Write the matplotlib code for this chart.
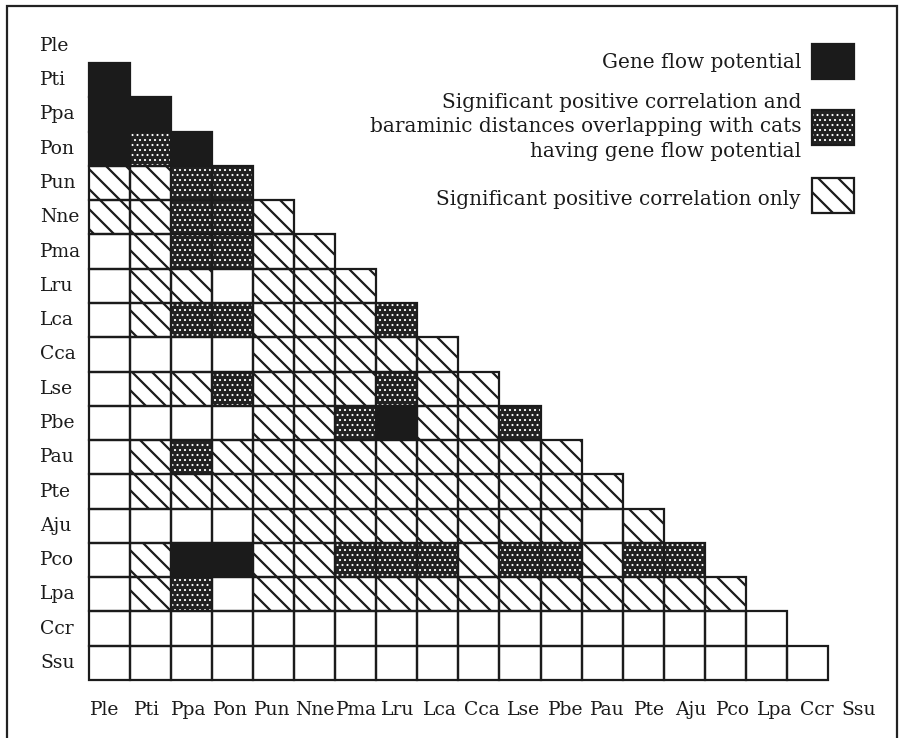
import matplotlib
matplotlib.use("Agg")
import matplotlib.pyplot as plt
from matplotlib.patches import Rectangle

# Species abbreviations (rows top-to-bottom, columns left-to-right)
species = ["Ple", "Pti", "Ppa", "Pon", "Pun", "Nne", "Pma", "Lru", "Lca",
           "Cca", "Lse", "Pbe", "Pau", "Pte", "Aju", "Pco", "Lpa", "Ccr", "Ssu"]

# Lower-triangle relationship codes, one string per row starting at "Pti".
# B = gene flow potential, D = correlation + overlapping baraminic distances,
# S = significant positive correlation only, W = none
cell_codes = [
    "B",
    "BB",
    "BDB",
    "SSDD",
    "SSDDS",
    "WSDDSS",
    "WSSWSSS",
    "WSDDSSSD",
    "WWWWSSSSS",
    "WSSDSSSDSS",
    "WWWWSSDBSSD",
    "WSDSSSSSSSSS",
    "WSSSSSSSSSSSS",
    "WWWWSSSSSSSSWS",
    "WSBBSSDDDSDDSDD",
    "WSDWSSSSSSSSSSSS",
    "WWWWWWWWWWWWWWWWW",
    "WWWWWWWWWWWWWWWWWW",
]

legend_labels = [
    "Gene flow potential",
    "Significant positive correlation and\n"
    "baraminic distances overlapping with cats\n"
    "having gene flow potential",
    "Significant positive correlation only",
]
legend_codes = ["B", "D", "S"]

W, H = 902, 738
DPI = 120                 # hatch tile = 1 inch, so this sets the stripe pitch
PT = 100.0 / DPI          # keeps sizes as they would look at 100 dpi
INK = "#1b1b1b"
FONT = "DejaVu Serif"

fig = plt.figure(figsize=(W / DPI, H / DPI), dpi=DPI)
fig.patch.set_facecolor("white")
ax = fig.add_axes([0, 0, 1, 1])
ax.set_axis_off()

# cell size in pixels and grid origin
cw, ch = 41.05, 34.28
x0_px, y0_px = 89.0, 63.0 - ch
ax.set_xlim(-x0_px / cw, (W - x0_px) / cw)
ax.set_ylim((H - y0_px) / ch, -y0_px / ch)


def fill_style(code):
    if code == "B":
        return dict(facecolor=INK, edgecolor=INK, hatch=None, hlw=1.0)
    if code == "D":
        return dict(facecolor="#222222", edgecolor="white", hatch="....", hlw=0.8)
    if code == "S":
        return dict(facecolor="white", edgecolor=INK, hatch="\\\\", hlw=1.6)
    return dict(facecolor="white", edgecolor=INK, hatch=None, hlw=1.0)


def add_cell(code, xy, w, h, transform):
    st = fill_style(code)
    on_fig = transform is fig.transFigure
    with plt.rc_context({"hatch.linewidth": st["hlw"] * PT}):
        p = Rectangle(xy, w, h, facecolor=st["facecolor"],
                      edgecolor=st["edgecolor"], hatch=st["hatch"],
                      linewidth=0, transform=transform, zorder=1)
        if hasattr(p, "set_hatch_linewidth"):
            p.set_hatch_linewidth(st["hlw"] * PT)
        fig.add_artist(p) if on_fig else ax.add_patch(p)
    b = Rectangle(xy, w, h, facecolor="none", edgecolor=INK, linewidth=1.6 * PT,
                  transform=transform, zorder=2)
    fig.add_artist(b) if on_fig else ax.add_patch(b)


for r, row in enumerate(cell_codes, start=1):
    for c, code in enumerate(row):
        add_cell(code, (c, r), 1, 1, ax.transData)

# row labels
for r, name in enumerate(species):
    ax.text(-49 / cw, r + 0.5, name, ha="left", va="center",
            fontsize=13.5 * PT, family=FONT, color=INK)
# column labels
for c, name in enumerate(species):
    ax.text(0.39 + 1.02 * c, 19.87, name, ha="center", va="center",
            fontsize=13.5 * PT, family=FONT, color=INK)


# legend (figure pixel coordinates converted to fractions)
def fx(px):
    return px / W


def fy(py):
    return 1 - py / H


text_y = [62, 127, 200]
swatch_y = [44, 110, 178]
for lab, code, ty, sy in zip(legend_labels, legend_codes, text_y, swatch_y):
    fig.text(fx(801), fy(ty), lab, ha="right", va="center", multialignment="right",
             fontsize=14.4 * PT, family=FONT, color=INK, linespacing=1.36)
    add_cell(code, (fx(812), fy(sy + 35)), 42 / W, 35 / H, fig.transFigure)

# outer frame (bottom edge falls outside the image)
fig.add_artist(Rectangle((fx(7), -0.05), fx(897) - fx(7), fy(6) + 0.05,
                         transform=fig.transFigure, fill=False,
                         edgecolor="#222222", linewidth=1.6 * PT))

fig.savefig("out.png", dpi=DPI, facecolor="white")
